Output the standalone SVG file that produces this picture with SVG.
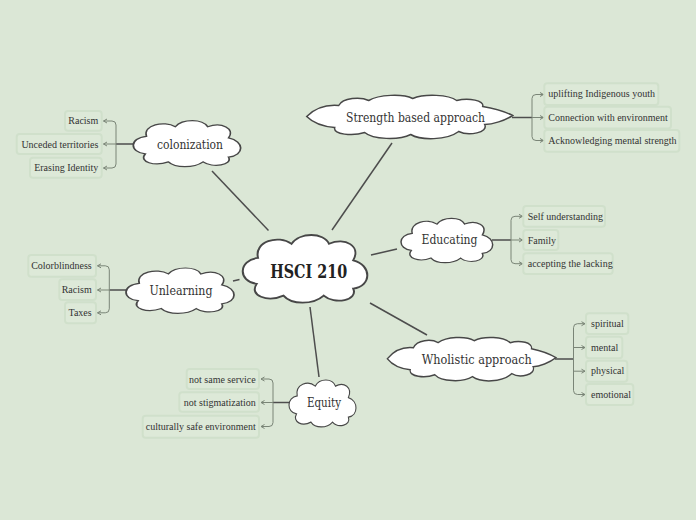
<svg xmlns="http://www.w3.org/2000/svg" width="696" height="520" viewBox="0 0 696 520">
<style>
.bg{fill:#dbe7d6}
.cloud{fill:#ffffff;stroke:#474747;stroke-width:1.5;vector-effect:non-scaling-stroke}
.lbl{font-family:"DejaVu Serif","Liberation Serif",serif;font-size:12px;fill:#333333;text-anchor:middle}
.main{font-family:"DejaVu Serif","Liberation Serif",serif;font-size:19px;font-weight:bold;fill:#222222;text-anchor:middle}
.leafbox{fill:#dde9d8;stroke:#d0e0cb;stroke-width:2}
.leaf{font-family:"Liberation Serif","Times New Roman",serif;font-size:10px;fill:#333333}
.end{text-anchor:end}
.link{fill:none;stroke:#4d4d4d;stroke-width:1.5}
.br{fill:none;stroke:#7a8577;stroke-width:1}
.arr{fill:none;stroke:#7a8577;stroke-width:1;marker-end:url(#ah)}
</style>
<defs>
<marker id="ah" viewBox="0 0 6 6" refX="5" refY="3" markerWidth="6" markerHeight="6" orient="auto" markerUnits="userSpaceOnUse">
<path d="M1.5,1 L5,3 L1.5,5" fill="none" stroke="#7a8577" stroke-width="1"/>
</marker>
<path id="bump" d="M15,22 C12,8 30,2 40,10 C46,0 64,0 68,10 C80,4 92,12 86,24 C100,28 100,46 86,48 C90,58 72,62 64,54 C56,62 40,62 34,54 C22,60 8,54 14,44 C0,42 0,24 15,22 Z"/>
<path id="wide" d="M0,22 C8,14 20,10 32,11 C36,3 54,2 62,6 C72,0 96,-1 106,4 C118,-1 142,0 150,6 C162,3 178,6 176,12 C188,14 200,18 206,21 C198,26 186,30 178,30 C182,38 162,42 152,37 C140,46 114,46 104,40 C92,46 66,45 58,38 C46,42 26,40 28,33 C16,32 6,28 0,22 Z"/>
</defs>
<rect class="bg" x="0" y="0" width="696" height="520"/>

<g id="connectors">
<line class="link" x1="268.5" y1="230.5" x2="212" y2="171"/>
<line class="link" x1="332" y1="230" x2="392" y2="143"/>
<line class="link" x1="371" y1="255" x2="397" y2="249"/>
<line class="link" x1="370" y1="303" x2="427" y2="335"/>
<line class="link" x1="310" y1="307" x2="319" y2="377"/>
<line class="link" x1="233" y1="281" x2="239.5" y2="279.5"/>
<!-- colonization bracket -->
<line class="link" x1="134" y1="144" x2="116" y2="144"/>
<path class="arr" d="M116,144 V125 Q116,121 112,121 H103.5"/>
<path class="arr" d="M116,144 H103.5"/>
<path class="arr" d="M116,144 V164 Q116,168 112,168 H103.5"/>
<!-- strength bracket -->
<line class="link" x1="512" y1="117.5" x2="532" y2="117.5"/>
<path class="arr" d="M532,117.5 V98.5 Q532,94.5 536,94.5 H543.5"/>
<path class="arr" d="M532,117.5 H543.5"/>
<path class="arr" d="M532,117.5 V136.5 Q532,140.5 536,140.5 H543.5"/>
<!-- educating bracket -->
<line class="link" x1="492" y1="240" x2="511" y2="240"/>
<path class="arr" d="M511,240 V220.3 Q511,216.3 515,216.3 H522.5"/>
<path class="arr" d="M511,240 H522.5"/>
<path class="arr" d="M511,240 V259.7 Q511,263.7 515,263.7 H522.5"/>
<!-- wholistic bracket -->
<line class="link" x1="555" y1="359" x2="573.5" y2="359"/>
<path class="arr" d="M573.5,359 V327.7 Q573.5,323.7 577.5,323.7 H585"/>
<path class="arr" d="M573.5,347.5 H585"/>
<path class="arr" d="M573.5,371.2 H585"/>
<path class="arr" d="M573.5,359 V390.5 Q573.5,394.5 577.5,394.5 H585"/>
<!-- equity bracket -->
<line class="link" x1="291" y1="402.5" x2="273" y2="402.5"/>
<path class="arr" d="M273,402.5 V383 Q273,379 269,379 H261"/>
<path class="arr" d="M273,402.5 H261"/>
<path class="arr" d="M273,402.5 V422.5 Q273,426.5 269,426.5 H261"/>
<!-- unlearning bracket -->
<line class="link" x1="127" y1="290" x2="109.3" y2="290"/>
<path class="arr" d="M109.3,290 V269.8 Q109.3,265.8 105.3,265.8 H97.5"/>
<path class="arr" d="M109.3,290 H97.5"/>
<path class="arr" d="M109.3,290 V308.8 Q109.3,312.8 105.3,312.8 H97.5"/>
</g>

<g id="node-center">
<use href="#bump" class="cloud" transform="translate(237.9,232.06) scale(1.341,1.177)"/>
<text class="main" x="308.7" y="278.3" textLength="77" lengthAdjust="spacingAndGlyphs">HSCI 210</text>
</g>

<g id="node-colonization">
<use href="#bump" class="cloud" transform="translate(129.1,118.7) scale(1.156,0.8)"/>
<text class="lbl" x="190" y="148.5" textLength="66" lengthAdjust="spacingAndGlyphs">colonization</text>
</g>
<g id="leaf-col-1"><rect class="leafbox" x="65" y="111" width="36.7" height="19.7" rx="3"/><text class="leaf end" x="98.3" y="124.3">Racism</text></g>
<g id="leaf-col-2"><rect class="leafbox" x="16.7" y="134" width="85" height="20" rx="3"/><text class="leaf end" x="98.3" y="147.5">Unceded territories</text></g>
<g id="leaf-col-3"><rect class="leafbox" x="30" y="157.7" width="71.7" height="20" rx="3"/><text class="leaf end" x="98.3" y="171">Erasing Identity</text></g>

<g id="node-strength">
<use href="#wide" class="cloud" transform="translate(306.7,94.5)"/>
<text class="lbl" x="415.5" y="121.5" textLength="139" lengthAdjust="spacingAndGlyphs">Strength based approach</text>
</g>
<g id="leaf-str-1"><rect class="leafbox" x="544.3" y="83.3" width="114" height="21.7" rx="3"/><text class="leaf" x="548.3" y="97.2">uplifting Indigenous youth</text></g>
<g id="leaf-str-2"><rect class="leafbox" x="544.3" y="106.7" width="126.7" height="21.7" rx="3"/><text class="leaf" x="548.3" y="120.5">Connection with environment</text></g>
<g id="leaf-str-3"><rect class="leafbox" x="544.3" y="130" width="135" height="21.7" rx="3"/><text class="leaf" x="548.3" y="143.8">Acknowledging mental strength</text></g>

<g id="node-educating">
<use href="#bump" class="cloud" transform="translate(397.45,216.37) scale(0.987,0.772)"/>
<text class="lbl" x="449.5" y="244" textLength="56" lengthAdjust="spacingAndGlyphs">Educating</text>
</g>
<g id="leaf-edu-1"><rect class="leafbox" x="523.3" y="206" width="81.7" height="20.7" rx="3"/><text class="leaf" x="527.7" y="219.5">Self understanding</text></g>
<g id="leaf-edu-2"><rect class="leafbox" x="523.3" y="230" width="35" height="20" rx="3"/><text class="leaf" x="527.7" y="243.5">Family</text></g>
<g id="leaf-edu-3"><rect class="leafbox" x="523.3" y="253.3" width="89.4" height="20.7" rx="3"/><text class="leaf" x="527.7" y="266.5">accepting the lacking</text></g>

<g id="node-wholistic">
<use href="#wide" class="cloud" transform="translate(387.3,336.7) scale(0.819,1)"/>
<text class="lbl" x="476.7" y="364" textLength="110" lengthAdjust="spacingAndGlyphs">Wholistic approach</text>
</g>
<g id="leaf-who-1"><rect class="leafbox" x="586" y="313.3" width="42.3" height="20.7" rx="3"/><text class="leaf" x="591" y="327">spiritual</text></g>
<g id="leaf-who-2"><rect class="leafbox" x="586" y="336.7" width="36.3" height="21.6" rx="3"/><text class="leaf" x="591" y="350.5">mental</text></g>
<g id="leaf-who-3"><rect class="leafbox" x="586" y="360.7" width="41.3" height="21" rx="3"/><text class="leaf" x="591" y="374">physical</text></g>
<g id="leaf-who-4"><rect class="leafbox" x="586" y="384" width="47.3" height="21" rx="3"/><text class="leaf" x="591" y="397.5">emotional</text></g>

<g id="node-equity">
<use href="#bump" class="cloud" transform="translate(286.4,377.96) scale(0.721,0.817)"/>
<text class="lbl" x="324" y="407" textLength="34" lengthAdjust="spacingAndGlyphs">Equity</text>
</g>
<g id="leaf-eq-1"><rect class="leafbox" x="186.7" y="369" width="72.3" height="20" rx="3"/><text class="leaf end" x="255.7" y="382.8">not same service</text></g>
<g id="leaf-eq-2"><rect class="leafbox" x="179.3" y="392.3" width="79.7" height="19.4" rx="3"/><text class="leaf end" x="255.7" y="405.5">not stigmatization</text></g>
<g id="leaf-eq-3"><rect class="leafbox" x="142.7" y="415.7" width="116.3" height="22" rx="3"/><text class="leaf end" x="255.7" y="429.5">culturally safe environment</text></g>

<g id="node-unlearning">
<use href="#bump" class="cloud" transform="translate(121.8,266.03) scale(1.163,0.788)"/>
<text class="lbl" x="181" y="294.5" textLength="63" lengthAdjust="spacingAndGlyphs">Unlearning</text>
</g>
<g id="leaf-un-1"><rect class="leafbox" x="28.3" y="255" width="67.7" height="21.7" rx="3"/><text class="leaf end" x="91.7" y="269.3">Colorblindness</text></g>
<g id="leaf-un-2"><rect class="leafbox" x="59.3" y="279.3" width="36.7" height="20.7" rx="3"/><text class="leaf end" x="91.7" y="293">Racism</text></g>
<g id="leaf-un-3"><rect class="leafbox" x="65" y="302.3" width="31" height="21" rx="3"/><text class="leaf end" x="91.7" y="316">Taxes</text></g>
</svg>
